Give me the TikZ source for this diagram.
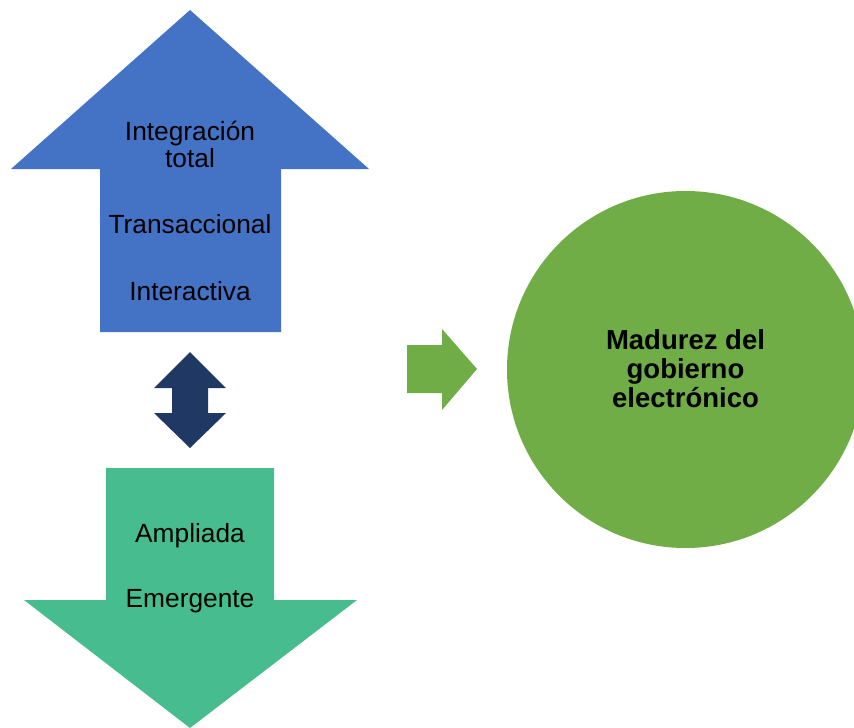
\documentclass[tikz,border=0pt]{standalone}
\usepackage{fontspec}
\setmainfont{Liberation Sans}
\definecolor{upblue}{HTML}{4472C4}
\definecolor{navy}{HTML}{203864}
\definecolor{teal}{HTML}{47BD8F}
\definecolor{leaf}{HTML}{70AD47}
\begin{document}
\begin{tikzpicture}[x=1pt,y=-1pt,
  lbl/.style={inner sep=0pt,anchor=base,font=\fontsize{26.3}{27}\selectfont,align=center},
  boldlbl/.style={inner sep=0pt,font=\bfseries\fontsize{27.5}{29}\selectfont,align=center}]
\useasboundingbox (0,0) rectangle (854,728);
\begin{scope}
\clip (0,0) rectangle (854,728);
% up arrow
\fill[upblue] (190,10) -- (369,169) -- (281,169) -- (281,332) -- (100,332) -- (100,169) -- (11,169) -- cycle;
% double arrow
\fill[navy] (190,352) -- (226,388) -- (208,388) -- (208,413) -- (226,413) -- (190,448) -- (154,413) -- (172,413) -- (172,388) -- (154,388) -- cycle;
% down arrow
\fill[teal] (106,468) -- (274,468) -- (274,600) -- (357,600) -- (190,728) -- (24,600) -- (106,600) -- cycle;
% right arrow
\fill[leaf] (407,345) -- (442,345) -- (442,329) -- (477,369) -- (442,410) -- (442,393) -- (407,393) -- cycle;
% circle
\node (mat) [circle,fill=leaf,minimum size=357pt,inner sep=0pt] at (685.5,369.5) {};
\end{scope}
\node (t1) [lbl] at (190,167) {Integración\\total};
\node (t2) [lbl] at (190,233) {Transaccional};
\node (t3) [lbl] at (190,300) {Interactiva};
\node (t4) [lbl] at (190,542) {Ampliada};
\node (t5) [lbl] at (190,607) {Emergente};
\node (t6) [boldlbl] at (685.5,369) {Madurez del\\gobierno\\electrónico};
\end{tikzpicture}
\end{document}
